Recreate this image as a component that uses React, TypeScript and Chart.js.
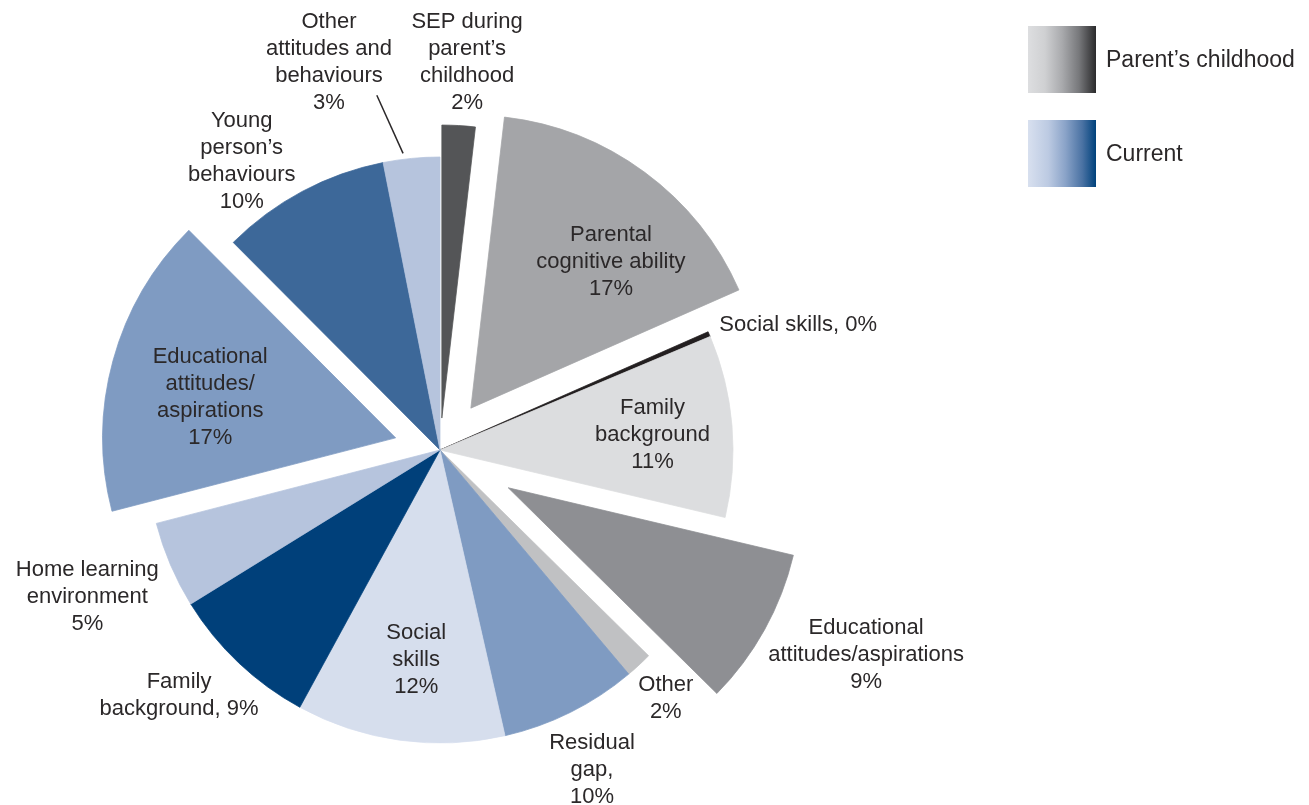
import React, { useEffect, useRef } from "react";
import { Chart, registerables } from "chart.js";

Chart.register(...registerables);

// ---- Data (clockwise from 12 o'clock) ----
const categories = [
  "SEP during parent’s childhood",
  "Parental cognitive ability",
  "Social skills (parent’s childhood)",
  "Family background (parent’s childhood)",
  "Educational attitudes/aspirations (parent’s childhood)",
  "Other",
  "Residual gap",
  "Social skills",
  "Family background",
  "Home learning environment",
  "Educational attitudes/aspirations",
  "Young person’s behaviours",
  "Other attitudes and behaviours",
];

// slice sizes as drawn (percent of the pie)
const shares = [1.83, 16.56, 0.28, 10.03, 8.69, 1.47, 7.58, 11.5, 8.25, 4.78, 16.56, 9.36, 3.11];

// printed labels
const labelLines: string[][] = [
  ["SEP during", "parent’s", "childhood", "2%"],
  ["Parental", "cognitive ability", "17%"],
  ["Social skills, 0%"],
  ["Family", "background", "11%"],
  ["Educational", "attitudes/aspirations", "9%"],
  ["Other", "2%"],
  ["Residual", "gap,", "10%"],
  ["Social", "skills", "12%"],
  ["Family", "background, 9%"],
  ["Home learning", "environment", "5%"],
  ["Educational", "attitudes/", "aspirations", "17%"],
  ["Young", "person’s", "behaviours", "10%"],
  ["Other", "attitudes and", "behaviours", "3%"],
];

const legendLabels = ["Parent’s childhood", "Current"];

// ---- Styles ----
const sliceColors = [
  "#545557", "#a4a5a8", "#231f20", "#dcdddf", "#8e8f93", "#c0c1c3",
  "#7f9bc2", "#d6deed", "#00407a", "#b6c4dd", "#7f9bc2", "#3d6899", "#b6c4dd",
];
const explodePx = [32, 52, 0, 0, 78, 0, 0, 0, 0, 0, 46, 0, 0];
const labelShiftDeg = [0.7, 5.9, -0.8, 0.75, -3.25, 0.45, 1.05, -1.4, 3.35, 0.5, -2.3, -6.45, -10.4];
const labelRadiusFactor = [1.326, 0.867, 1.044, 0.727, 1.614, 1.145, 1.209, 0.72, 1.222, 1.304, 0.805, 1.195, 1.375];
const labelAlign: CanvasTextAlign[] = [
  "center", "center", "left", "center", "center", "center", "center",
  "center", "center", "center", "center", "center", "center",
];
const leaderLines = [{ index: 12, from: [-1.5, 1.02], to: [-4.5, 1.23] }];
const legendGradients = [
  "linear-gradient(to right, #dddee0 0%, #cfd0d2 25%, #a9aaad 50%, #77787b 75%, #2a2a2c 100%)",
  "linear-gradient(to right, #d8e0ef 0%, #bccae2 30%, #8aa3c8 55%, #4a72a3 80%, #00427c 100%)",
];

const FONT_FAMILY = '"Liberation Sans", Arial, Helvetica, sans-serif';
const TEXT_COLOR = "#2b2829";
const LINE_HEIGHT = 27;

const piePlugin = {
  id: "explodedPie",
  beforeDatasetsDraw(chart: any) {
    const meta = chart.getDatasetMeta(0);
    const ctx = chart.ctx;
    meta.data.forEach((arc: any, i: number) => {
      const mid = (arc.startAngle + arc.endAngle) / 2;
      const d = explodePx[i] || 0;
      ctx.save();
      ctx.translate(Math.cos(mid) * d, Math.sin(mid) * d);
      arc.draw(ctx, chart.chartArea);
      ctx.restore();
    });
    return false;
  },
  afterDraw(chart: any) {
    const meta = chart.getDatasetMeta(0);
    const ctx = chart.ctx;
    ctx.save();
    ctx.font = `22px ${FONT_FAMILY}`;
    ctx.fillStyle = TEXT_COLOR;
    ctx.textBaseline = "middle";
    meta.data.forEach((arc: any, i: number) => {
      const cx = arc.x;
      const cy = arc.y;
      const R = arc.outerRadius;
      const mid = (arc.startAngle + arc.endAngle) / 2;
      const a = mid + (labelShiftDeg[i] * Math.PI) / 180;
      const r = labelRadiusFactor[i] * R;
      const x = cx + Math.cos(a) * r;
      const y = cy + Math.sin(a) * r;
      const lines = labelLines[i];
      ctx.textAlign = labelAlign[i];
      const top = y - ((lines.length - 1) * LINE_HEIGHT) / 2;
      lines.forEach((ln, k) => ctx.fillText(ln, x, top + k * LINE_HEIGHT));
    });
    ctx.strokeStyle = TEXT_COLOR;
    ctx.lineWidth = 1.5;
    leaderLines.forEach((l) => {
      const arc: any = meta.data[l.index];
      const mid = (arc.startAngle + arc.endAngle) / 2;
      const R = arc.outerRadius;
      const a1 = mid + (l.from[0] * Math.PI) / 180;
      const a2 = mid + (l.to[0] * Math.PI) / 180;
      ctx.beginPath();
      ctx.moveTo(arc.x + Math.cos(a1) * l.from[1] * R, arc.y + Math.sin(a1) * l.from[1] * R);
      ctx.lineTo(arc.x + Math.cos(a2) * l.to[1] * R, arc.y + Math.sin(a2) * l.to[1] * R);
      ctx.stroke();
    });
    ctx.restore();
  },
};

export default function App() {
  const canvasRef = useRef<HTMLCanvasElement | null>(null);

  useEffect(() => {
    if (!canvasRef.current) return;
    const chart = new Chart(canvasRef.current, {
      type: "pie",
      data: {
        labels: categories,
        datasets: [
          {
            data: shares,
            backgroundColor: sliceColors,
            borderColor: sliceColors,
            borderWidth: 0.75,
            radius: 293,
          } as any,
        ],
      },
      options: {
        animation: false,
        responsive: false,
        maintainAspectRatio: false,
        devicePixelRatio: 1,
        events: [],
        layout: { padding: { left: 0, right: 429, top: 95, bottom: 0 } },
        plugins: {
          legend: { display: false },
          tooltip: { enabled: false },
          title: { display: false },
        },
      } as any,
      plugins: [piePlugin as any],
    });
    return () => chart.destroy();
  }, []);

  return (
    <div style={{ position: "fixed", left: 0, top: 0, width: 1309, height: 805, background: "#fff" }}>
      <canvas ref={canvasRef} width={1309} height={805} style={{ position: "absolute", left: 0, top: 0 }} />
      {legendLabels.map((lab, i) => (
        <div key={lab}>
          <div
            style={{
              position: "absolute",
              left: 1028,
              top: 26 + i * 94,
              width: 68,
              height: 67,
              background: legendGradients[i],
            }}
          />
          <div
            style={{
              position: "absolute",
              left: 1106,
              top: 26 + i * 94 + 33 - 14,
              height: 28,
              lineHeight: "28px",
              fontFamily: FONT_FAMILY,
              fontSize: 23,
              color: TEXT_COLOR,
              whiteSpace: "nowrap",
            }}
          >
            {lab}
          </div>
        </div>
      ))}
    </div>
  );
}
